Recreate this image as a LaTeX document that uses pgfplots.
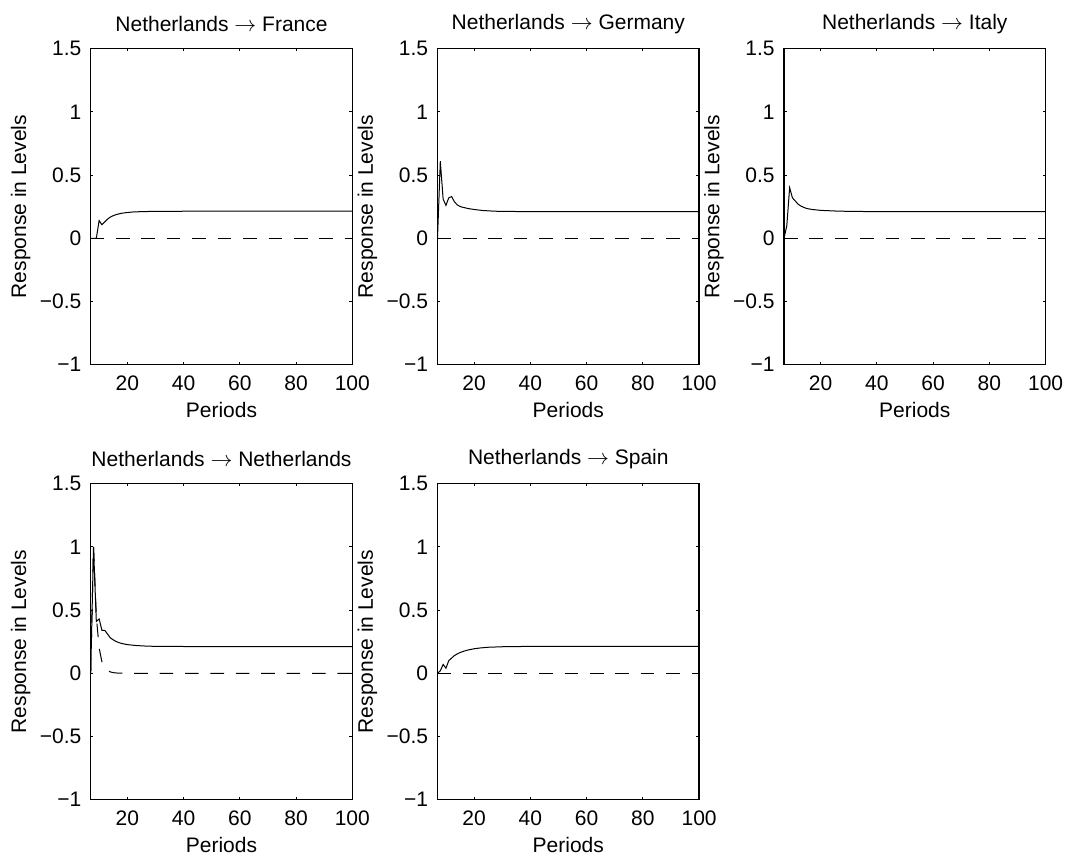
\documentclass[border=0pt]{standalone}
\usepackage{fontspec}
\setmainfont{Liberation Sans}
\usepackage{pgfplots}
\pgfplotsset{compat=1.18}
\begin{document}
\fontsize{10.5}{12.6}\selectfont
\begin{tikzpicture}
\path[use as bounding box] (0,0) rectangle (533pt,428pt);
\pgfplotsset{irf/.style={
  scale only axis, width=130.8pt, height=158pt, anchor=south west,
  xmin=7, xmax=100, ymin=-1, ymax=1.5,
  xtick={20,40,60,80,100}, xticklabels={20,40,60,80,100},
  ytick={-1,-0.5,0,0.5,1,1.5}, yticklabels={−1,−0.5,0,0.5,1,1.5},
  tick align=inside, xtick pos=both, ytick pos=both, major tick length=1.4pt,
  axis line style={line width=0.6pt}, every tick/.style={line width=0.5pt, black},
  every tick label/.append style={font=\fontsize{10.5}{12}\selectfont},
  xticklabel style={yshift=-2pt}, yticklabel style={xshift=-1pt},
  xlabel=Periods, ylabel=Response in Levels,
  label style={font=\fontsize{10.5}{12}\selectfont},
  title style={font=\fontsize{10.5}{12}\selectfont},
  xlabel style={at={([yshift=-22.7pt]axis description cs:0.5,0)}, anchor=center},
  ylabel style={at={([xshift=-35pt]axis description cs:0,0.5)}, anchor=center},
  title style={at={([yshift=6.5pt]axis description cs:0.5,1)}, anchor=center},
  solid line/.style={black, line width=0.5pt},
  dash line/.style={black, line width=0.5pt, dash pattern=on 6.8pt off 5.9pt},
}}
% Netherlands -> France
\begin{axis}[irf, at={(45.35pt,245.65pt)}, title={Netherlands $\rightarrow$ France}]
\addplot[solid line] coordinates {(7,0)(8,0)(9,0)(10,0.14)(11,0.107)(12,0.13)(13,0.152)(14,0.168)(15,0.179)(16,0.187)(17,0.193)(18,0.198)(20,0.204)(22,0.208)(25,0.211)(30,0.213)(40,0.214)(60,0.214)(100,0.214)};
\addplot[dash line] coordinates {(7,0)(100,0)};
\end{axis}
% Netherlands -> Germany
\begin{axis}[irf, at={(218.75pt,245.65pt)}, title={Netherlands $\rightarrow$ Germany}]
\addplot[solid line] coordinates {(7,0)(8,0.61)(9,0.31)(10,0.26)(11,0.32)(12,0.33)(13,0.29)(14,0.265)(15,0.252)(16,0.245)(17,0.24)(18,0.235)(20,0.228)(23,0.22)(26,0.216)(29,0.213)(40,0.211)(100,0.211)};
\addplot[dash line] coordinates {(7,0)(100,0)};
\end{axis}
% Netherlands -> Italy
\begin{axis}[irf, at={(392pt,245.65pt)}, title={Netherlands $\rightarrow$ Italy}]
\addplot[solid line] coordinates {(7,0)(8,0.1)(9,0.40)(10,0.32)(11,0.295)(12,0.27)(13,0.255)(14,0.245)(15,0.236)(17,0.228)(20,0.221)(25,0.216)(30,0.213)(40,0.211)(100,0.211)};
\addplot[dash line] coordinates {(7,0)(100,0)};
\end{axis}
% Netherlands -> Netherlands
\begin{axis}[irf, at={(45.35pt,28.15pt)}, title={Netherlands $\rightarrow$ Netherlands}]
\addplot[solid line] coordinates {(7,0)(8,1.0)(9,0.41)(10,0.43)(11,0.34)(12,0.34)(13,0.31)(14,0.28)(15,0.265)(16,0.252)(17,0.243)(18,0.236)(20,0.227)(23,0.22)(26,0.216)(30,0.213)(40,0.212)(100,0.212)};
\addplot[dash line] coordinates {(7,0)(8,1.0)(9,0.45)(10,0.2)(11,0.09)(12,0.045)(13,0.022)(14,0.011)(15,0.005)(17,0.001)(20,0)(100,0)};
\end{axis}
% Netherlands -> Spain
\begin{axis}[irf, at={(218.75pt,28.15pt)}, title={Netherlands $\rightarrow$ Spain}]
\addplot[solid line] coordinates {(7,0)(8,0.02)(9,0.07)(10,0.04)(11,0.10)(12,0.12)(13,0.14)(14,0.153)(15,0.164)(16,0.172)(17,0.179)(18,0.185)(20,0.194)(22,0.2)(25,0.206)(30,0.21)(40,0.213)(100,0.213)};
\addplot[dash line] coordinates {(7,0)(100,0)};
\end{axis}
\end{tikzpicture}
\end{document}
